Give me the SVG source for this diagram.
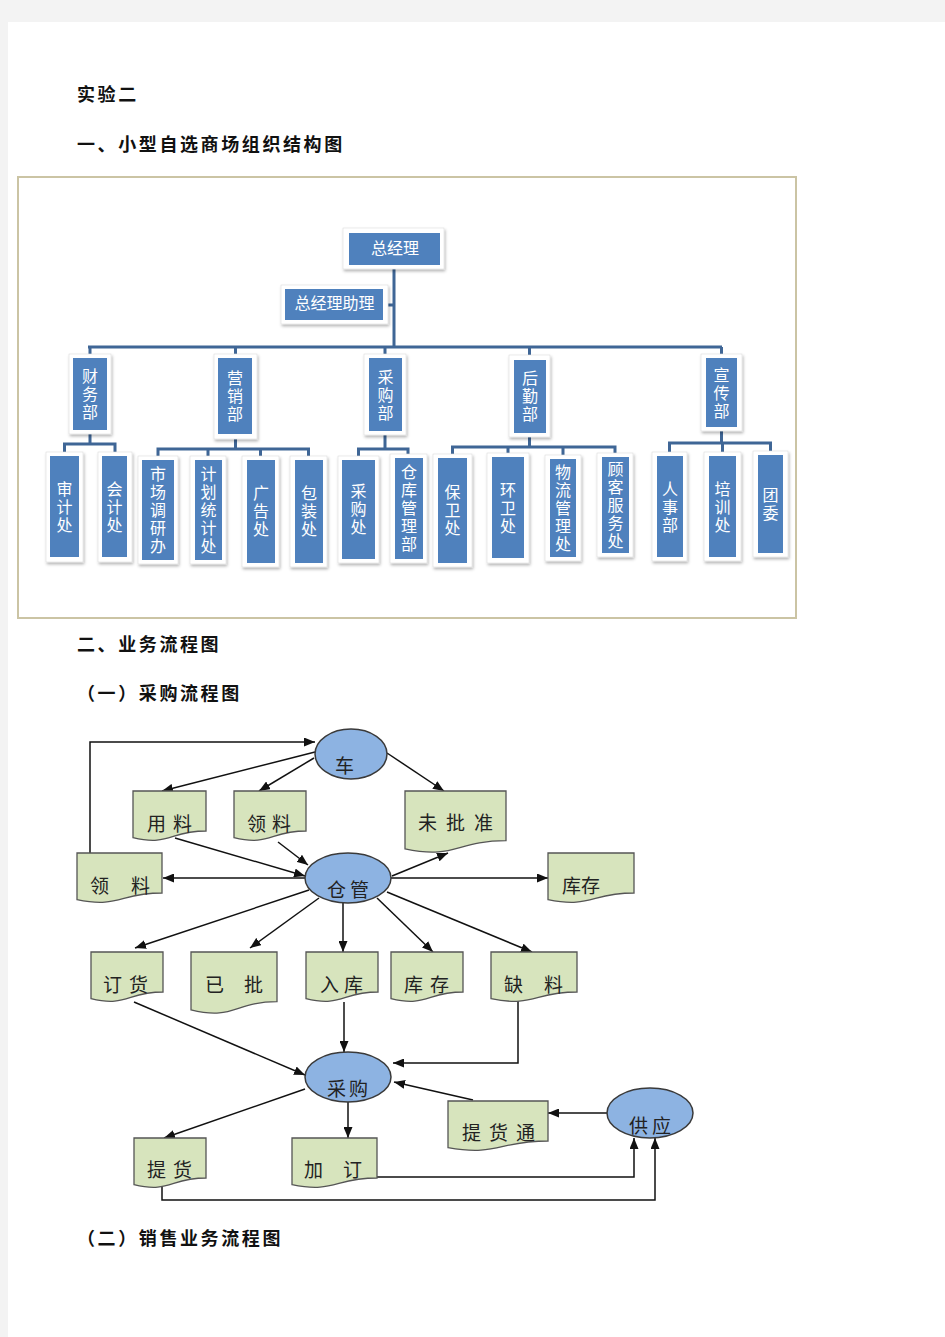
<svg xmlns="http://www.w3.org/2000/svg" width="945" height="1337" viewBox="0 0 945 1337">
<style>
.h{font-family:"Liberation Serif","Noto Sans CJK SC",serif;font-size:18px;font-weight:bold;fill:#111;letter-spacing:2.6px}
.frame{fill:#fff;stroke:#dcdcdc;stroke-width:0.6}
.blue{fill:#4f81bd}
.ot{font-family:"Noto Sans CJK SC",sans-serif;font-size:16px;fill:#fff;text-anchor:middle}
.vt{font-family:"Noto Sans CJK SC",sans-serif;font-size:16px;fill:#fff;text-anchor:middle;writing-mode:vertical-rl;letter-spacing:2px}
.ol{fill:none;stroke:#3f6696;stroke-width:3}
.doc{fill:#d7e4bd;stroke:#555;stroke-width:1.3}
.ell{fill:#8db3e2;stroke:#3a3a3a;stroke-width:1.5}
.ft{font-family:"Noto Sans CJK SC",sans-serif;font-size:19px;fill:#222}
.fl{fill:none;stroke:#111;stroke-width:1.5;marker-end:url(#ah)}
</style>
<defs>
<filter id="sh" x="-20%" y="-20%" width="140%" height="140%">
<feDropShadow dx="1" dy="2" stdDeviation="1.5" flood-color="#000" flood-opacity="0.3"/>
</filter>
<marker id="ah" markerUnits="userSpaceOnUse" markerWidth="11" markerHeight="9" refX="11" refY="4.5" orient="auto">
<path d="M0,0 L11,4.5 L0,9 Z" fill="#111"/>
</marker>
</defs>
<rect x="0" y="0" width="945" height="1337" fill="#f3f3f3"/>
<rect x="8" y="22" width="937" height="1315" fill="#fff"/>

<text class="h" x="77" y="101">实验二</text>
<text class="h" x="77" y="151">一、小型自选商场组织结构图</text>
<text class="h" x="77" y="651">二、业务流程图</text>
<text class="h" x="77" y="700">（一）采购流程图</text>
<text class="h" x="77" y="1245">（二）销售业务流程图</text>

<rect x="18" y="177" width="778" height="441" fill="#fff" stroke="#cbc4a4" stroke-width="2"/>

<g id="org-connectors">
<path class="ol" d="M394,269 V347 M388,305 H394 M88,347 H722 M90,347 V354 M235.5,347 V354 M385,347 V354 M529.5,347 V355 M721.5,347 V354"/>
<path class="ol" d="M90,434 V444 M64.5,452 V444 H115 V452"/>
<path class="ol" d="M235.5,439 V449 M158,456 V449 H308.5 V456 M208,449 V456 M260.5,449 V456"/>
<path class="ol" d="M385,435 V449 M358.5,456 V449 H408 V454"/>
<path class="ol" d="M529.5,437 V447 M452.5,454 V447 H615 V453 M508,447 V453 M563,447 V455"/>
<path class="ol" d="M721.5,431 V443 M669.5,452 V443 H770.5 V451 M722.5,443 V452"/>
</g>

<g id="n-zjl"><rect class="frame" filter="url(#sh)" x="343" y="228" width="101" height="41"/><rect class="blue" x="349" y="233" width="91" height="32"/><text class="ot" x="395" y="254">总经理</text></g>
<g id="n-zjlzl"><rect class="frame" filter="url(#sh)" x="281" y="285" width="107" height="39"/><rect class="blue" x="285" y="289" width="98" height="31"/><text class="ot" x="334.5" y="309">总经理助理</text></g>

<g id="n-cwb"><rect class="frame" filter="url(#sh)" x="69" y="354" width="42" height="80"/><rect class="blue" x="73" y="358" width="34" height="72"/><text class="vt" x="90" y="395">财务部</text></g>
<g id="n-yxb"><rect class="frame" filter="url(#sh)" x="214" y="354" width="43" height="85"/><rect class="blue" x="218" y="358" width="34" height="76"/><text class="vt" x="235" y="397">营销部</text></g>
<g id="n-cgb"><rect class="frame" filter="url(#sh)" x="364" y="354" width="42" height="81"/><rect class="blue" x="369" y="358" width="33" height="73"/><text class="vt" x="385.5" y="396">采购部</text></g>
<g id="n-hqb"><rect class="frame" filter="url(#sh)" x="509" y="355" width="41" height="82"/><rect class="blue" x="514" y="360" width="32" height="73"/><text class="vt" x="530" y="397">后勤部</text></g>
<g id="n-xcb"><rect class="frame" filter="url(#sh)" x="701" y="354" width="41" height="77"/><rect class="blue" x="706" y="358" width="31" height="69"/><text class="vt" x="721.5" y="394">宣传部</text></g>

<g id="n-sjc"><rect class="frame" filter="url(#sh)" x="46" y="452" width="37" height="110"/><rect class="blue" x="50" y="456" width="29" height="101"/><text class="vt" x="64.5" y="508">审计处</text></g>
<g id="n-kjc"><rect class="frame" filter="url(#sh)" x="98" y="452" width="34" height="110"/><rect class="blue" x="102" y="456" width="25" height="101"/><text class="vt" x="114.5" y="508">会计处</text></g>
<g id="n-scdyb"><rect class="frame" filter="url(#sh)" x="138" y="456" width="40" height="108"/><rect class="blue" x="142" y="460" width="32" height="100"/><text class="vt" x="158" y="511">市场调研办</text></g>
<g id="n-jhtjc"><rect class="frame" filter="url(#sh)" x="190" y="456" width="36" height="108"/><rect class="blue" x="195" y="460" width="27" height="100"/><text class="vt" x="208.5" y="511">计划统计处</text></g>
<g id="n-ggc"><rect class="frame" filter="url(#sh)" x="242" y="456" width="37" height="111"/><rect class="blue" x="247" y="460" width="28" height="103"/><text class="vt" x="261" y="512">广告处</text></g>
<g id="n-bzc"><rect class="frame" filter="url(#sh)" x="290" y="456" width="37" height="111"/><rect class="blue" x="295" y="460" width="28" height="103"/><text class="vt" x="309" y="512">包装处</text></g>
<g id="n-cgc"><rect class="frame" filter="url(#sh)" x="338" y="456" width="41" height="107"/><rect class="blue" x="342" y="460" width="33" height="99"/><text class="vt" x="358.5" y="510">采购处</text></g>
<g id="n-ckglb"><rect class="frame" filter="url(#sh)" x="390" y="454" width="37" height="109"/><rect class="blue" x="395" y="458" width="28" height="101"/><text class="vt" x="409" y="509">仓库管理部</text></g>
<g id="n-bwc"><rect class="frame" filter="url(#sh)" x="433" y="454" width="39" height="113"/><rect class="blue" x="438" y="458" width="29" height="105"/><text class="vt" x="452.5" y="511">保卫处</text></g>
<g id="n-hwc"><rect class="frame" filter="url(#sh)" x="487" y="453" width="42" height="110"/><rect class="blue" x="492" y="457" width="32" height="101"/><text class="vt" x="508" y="509">环卫处</text></g>
<g id="n-wlglc"><rect class="frame" filter="url(#sh)" x="545" y="455" width="36" height="106"/><rect class="blue" x="550" y="459" width="26" height="98"/><text class="vt" x="563" y="509">物流管理处</text></g>
<g id="n-gkfwc"><rect class="frame" filter="url(#sh)" x="597" y="453" width="36" height="104"/><rect class="blue" x="602" y="457" width="27" height="96"/><text class="vt" x="615.5" y="506">顾客服务处</text></g>
<g id="n-rsb"><rect class="frame" filter="url(#sh)" x="652" y="452" width="35" height="109"/><rect class="blue" x="657" y="456" width="26" height="101"/><text class="vt" x="670" y="508">人事部</text></g>
<g id="n-pxc"><rect class="frame" filter="url(#sh)" x="704" y="452" width="37" height="109"/><rect class="blue" x="709" y="456" width="27" height="101"/><text class="vt" x="722.5" y="508">培训处</text></g>
<g id="n-tw"><rect class="frame" filter="url(#sh)" x="753" y="451" width="35" height="106"/><rect class="blue" x="758" y="455" width="25" height="98"/><text class="vt" x="770.5" y="505">团委</text></g>

<g id="flow-connectors">
<path class="fl" d="M90,853 V742 H315"/>
<path class="fl" d="M315,752 L162,791"/>
<path class="fl" d="M314,758 L259,791"/>
<path class="fl" d="M387,753 L444,791"/>
<path class="fl" d="M175,838 L305,876"/>
<path class="fl" d="M278,842 L308,865"/>
<path class="fl" d="M305,878 H163"/>
<path class="fl" d="M392,876 L448,853"/>
<path class="fl" d="M391,878 H548"/>
<path class="fl" d="M309,890 L135,948"/>
<path class="fl" d="M319,898 L250,948"/>
<path class="fl" d="M343,903 V952"/>
<path class="fl" d="M377,898 L433,952"/>
<path class="fl" d="M387,892 L532,952"/>
<path class="fl" d="M134,1002 L305,1075"/>
<path class="fl" d="M344,1002 V1052"/>
<path class="fl" d="M518,999 V1063 H393"/>
<path class="fl" d="M473,1100 L394,1082"/>
<path class="fl" d="M305,1089 L164,1138"/>
<path class="fl" d="M348,1101 V1138"/>
<path class="fl" d="M608,1113 H548"/>
<path class="fl" d="M377,1177 H634 V1138"/>
<path class="fl" d="M162,1186 V1200 H655 V1138"/>
</g>

<g id="f-che"><ellipse class="ell" cx="351" cy="754" rx="36" ry="25"/><text class="ft" x="335" y="773">车</text></g>
<g id="f-cangguan"><ellipse class="ell" cx="348" cy="878" rx="43" ry="25"/><text class="ft" x="327 350" y="897">仓管</text></g>
<g id="f-caigou"><ellipse class="ell" cx="348" cy="1077" rx="43" ry="25"/><text class="ft" x="327 349" y="1096">采购</text></g>
<g id="f-gongying"><ellipse class="ell" cx="650" cy="1113" rx="43" ry="25"/><text class="ft" x="629 652" y="1133">供应</text></g>

<g id="f-yongliao"><path class="doc" d="M133,791 H206 V831 C169.5,831 169.5,846.4 133,837.7 Z"/><text class="ft" x="147 173" y="831">用料</text></g>
<g id="f-lingliao1"><path class="doc" d="M234,791 H306 V831 C270,831 270,846.4 234,837.7 Z"/><text class="ft" x="247 272" y="831">领料</text></g>
<g id="f-weipizhun"><path class="doc" d="M405,791 H506 V840.7 C455.5,840.7 455.5,859.6 405,848.9 Z"/><text class="ft" x="418 446 474" y="830">未批准</text></g>
<g id="f-lingliao2"><path class="doc" d="M77,853 H162 V893 C119.5,893 119.5,908.4 77,899.7 Z"/><text class="ft" x="90 131" y="893">领料</text></g>
<g id="f-kucun1"><path class="doc" d="M548,853 H634 V893 C591,893 591,908.4 548,899.7 Z"/><text class="ft" x="562 581" y="893">库存</text></g>
<g id="f-dinghuo"><path class="doc" d="M91,952 H163 V992 C127,992 127,1007.4 91,998.7 Z"/><text class="ft" x="103 129" y="992">订货</text></g>
<g id="f-yipi"><path class="doc" d="M191,952 H277 V1001.7 C234,1001.7 234,1020.6 191,1009.9 Z"/><text class="ft" x="205 244" y="992">已批</text></g>
<g id="f-ruku"><path class="doc" d="M306,952 H378 V992 C342,992 342,1007.4 306,998.7 Z"/><text class="ft" x="320 344" y="992">入库</text></g>
<g id="f-kucun2"><path class="doc" d="M391,952 H463 V992 C427,992 427,1007.4 391,998.7 Z"/><text class="ft" x="404 430" y="992">库存</text></g>
<g id="f-queliao"><path class="doc" d="M491,952 H577 V992 C534,992 534,1007.4 491,998.7 Z"/><text class="ft" x="504 544" y="992">缺料</text></g>
<g id="f-tihuotong"><path class="doc" d="M448,1101 H548 V1141 C498,1141 498,1156.4 448,1147.7 Z"/><text class="ft" x="462 489 516" y="1140">提货通</text></g>
<g id="f-tihuo"><path class="doc" d="M134,1138 H206 V1178 C170,1178 170,1193.4 134,1184.7 Z"/><text class="ft" x="147 173" y="1177">提货</text></g>
<g id="f-jiading"><path class="doc" d="M292,1138 H377 V1178 C334.5,1178 334.5,1193.4 292,1184.7 Z"/><text class="ft" x="304 343" y="1177">加订</text></g>
</svg>
